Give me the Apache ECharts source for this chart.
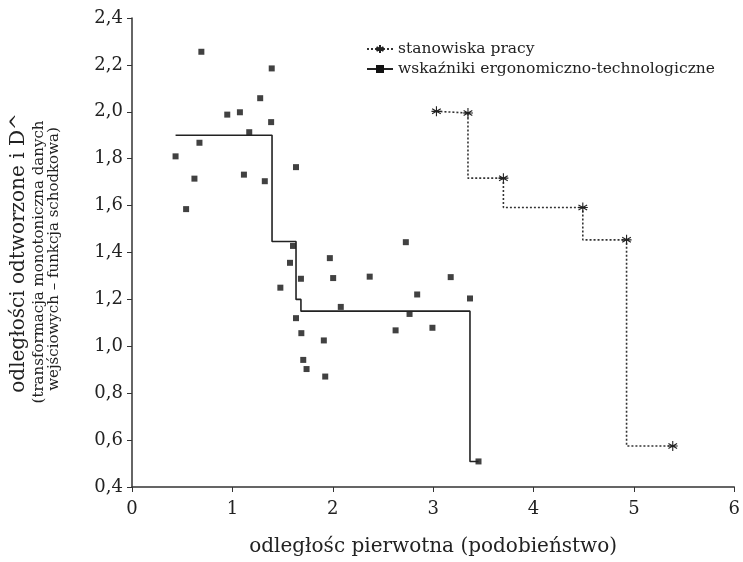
<!DOCTYPE html>
<html>
<head>
<meta charset="utf-8">
<script src="https://cdn.jsdelivr.net/npm/echarts@6/dist/echarts.min.js"></script>
<style>
  html, body { margin: 0; padding: 0; background: #fff; }
  #chart { width: 743px; height: 562px; }
</style>
</head>
<body>
<div id="chart"></div>
<script>
// punkty wskaźników (rozrzut)
var scatterX = [0.434, 0.539, 0.622, 0.672, 0.691, 0.949, 1.075, 1.115, 1.168, 1.277, 1.323, 1.392,
  1.386, 1.634, 1.604, 1.574, 1.683, 1.478, 1.971, 2.004, 2.368, 2.080, 1.634, 1.687,
  1.911, 1.706, 1.739, 1.925, 2.728, 3.175, 2.841, 3.367, 2.765, 2.626, 2.993, 3.452];
var scatterY = [1.81, 1.585, 1.715, 1.868, 2.256, 1.988, 1.998, 1.732, 1.913, 2.058, 1.704, 2.185,
  1.956, 1.764, 1.428, 1.356, 1.288, 1.250, 1.376, 1.291, 1.297, 1.168, 1.120, 1.056,
  1.025, 0.942, 0.903, 0.871, 1.444, 1.295, 1.221, 1.204, 1.138, 1.068, 1.079, 0.509];

// funkcja schodkowa wskaźników
var stepX = [0.434, 1.395, 1.634, 1.683, 3.367, 3.452];
var stepY = [1.90, 1.447, 1.20, 1.15, 0.509, 0.509];

// stanowiska pracy
var stanX = [3.033, 3.347, 3.70, 4.491, 4.927, 5.387];
var stanY = [2.002, 1.995, 1.717, 1.592, 1.454, 0.575];

var xTicks = [0, 1, 2, 3, 4, 5, 6];
var yTicks = [0.4, 0.6, 0.8, 1.0, 1.2, 1.4, 1.6, 1.8, 2.0, 2.2, 2.4];

var FONT = '"DejaVu Serif", "Liberation Serif", serif';
var nameA = 'stanowiska pracy';
var nameB = 'wskaźniki ergonomiczno-technologiczne';
var star = 'path://M0,-6L0,6M-5.2,-3L5.2,3M-5.2,3L5.2,-3M-6,0L6,0';

function pairs(xs, ys) {
  return xs.map(function (x, i) { return [x, ys[i]]; });
}

var myChart = echarts.init(document.getElementById('chart'), null, { renderer: 'canvas' });
var option = {
  backgroundColor: '#fff',
  animation: false,
  textStyle: { fontFamily: FONT, color: '#222' },
  grid: { left: 132, right: 6, top: 18, bottom: 75, containLabel: false },
  legend: {
    orient: 'vertical',
    left: 361,
    top: 36,
    itemWidth: 26,
    itemHeight: 10,
    itemGap: 4,
    data: [nameA, nameB],
    textStyle: { fontFamily: FONT, fontSize: 15.5, color: '#222' }
  },
  xAxis: {
    type: 'value',
    min: xTicks[0],
    max: xTicks[xTicks.length - 1],
    interval: 1,
    name: 'odległośc pierwotna (podobieństwo)',
    nameLocation: 'middle',
    nameGap: 50,
    nameTextStyle: { fontFamily: FONT, fontSize: 20, color: '#222' },
    splitLine: { show: false },
    axisLine: { lineStyle: { color: '#333', width: 1.5 } },
    axisTick: { show: true, inside: false, length: 5, lineStyle: { color: '#333' } },
    axisLabel: { margin: 13, fontSize: 18, fontFamily: FONT, color: '#222' }
  },
  yAxis: {
    type: 'value',
    min: yTicks[0],
    max: yTicks[yTicks.length - 1],
    interval: 0.2,
    splitLine: { show: false },
    axisLine: { show: true, lineStyle: { color: '#333', width: 1.5 } },
    axisTick: { show: true, inside: false, length: 5, lineStyle: { color: '#333' } },
    axisLabel: {
      margin: 9, fontSize: 18, fontFamily: FONT, color: '#222',
      formatter: function (v) { return v.toFixed(1).replace('.', ','); }
    }
  },
  graphic: [
    {
      type: 'text', x: 19, y: 253, rotation: Math.PI / 2,
      style: { text: 'odległości odtworzone i D^', fontFamily: FONT, fontSize: 20, fill: '#222', align: 'center', verticalAlign: 'middle' }
    },
    {
      type: 'text', x: 39, y: 262, rotation: Math.PI / 2,
      style: { text: '(transformacja monotoniczna danych', fontFamily: FONT, fontSize: 15, fill: '#222', align: 'center', verticalAlign: 'middle' }
    },
    {
      type: 'text', x: 54, y: 259, rotation: Math.PI / 2,
      style: { text: 'wejściowych – funkcja schodkowa)', fontFamily: FONT, fontSize: 15, fill: '#222', align: 'center', verticalAlign: 'middle' }
    }
  ],
  series: [
    {
      name: nameA,
      type: 'line',
      step: 'start',
      data: pairs(stanX, stanY),
      symbol: star,
      symbolSize: 10,
      itemStyle: { color: '#222', borderColor: '#222', borderWidth: 1.1 },
      lineStyle: { color: '#333', width: 1.6, type: [2, 2] }
    },
    {
      name: nameB,
      type: 'line',
      step: 'end',
      data: pairs(stepX, stepY),
      symbol: 'rect',
      symbolSize: 7,
      showSymbol: false,
      itemStyle: { color: '#111' },
      lineStyle: { color: '#222', width: 1.6 }
    },
    {
      name: nameB,
      type: 'scatter',
      data: pairs(scatterX, scatterY),
      symbol: 'rect',
      symbolSize: 6,
      itemStyle: { color: '#111' }
    }
  ]
};
option && myChart.setOption(option);
</script>
</body>
</html>
